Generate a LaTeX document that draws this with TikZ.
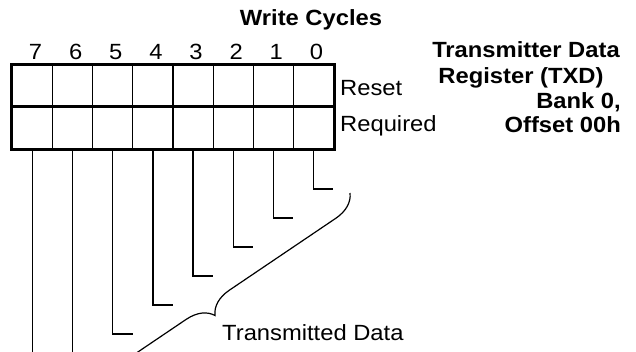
\documentclass[tikz,border=0pt]{standalone}
\usepackage{fontspec}
\setmainfont[FakeStretch=1.08]{Liberation Sans}
\usetikzlibrary{positioning}
\usetikzlibrary{calc}
\usetikzlibrary{decorations.pathreplacing}

\begin{document}
\begin{tikzpicture}[x=1pt, y=-1pt,
  every node/.style={font=\fontsize{22}{26}\selectfont, inner sep=0pt},
  cell/.style={draw, line width=1.2pt, minimum width=\Cw pt, minimum height=\Ch pt},
  frame/.style={line width=3pt},
  leader/.style={line width=1.2pt},
  title/.style={font=\fontsize{22}{26}\selectfont\bfseries}]

%---------------------------------------
% Page size
%---------------------------------------
\useasboundingbox (0,0) rectangle (636,351);
\clip (0,0) rectangle (636,351);

\def\Xl{12.5}     % left edge of register
\def\Cw{40.125}   % cell width
\def\Ch{42}       % row height
\def\Ytop{189}    % first leader corner
\def\Ystep{29}    % leader step
\def\Tick{20}     % leader tick length

%====================================================
% Register: reset row and required row
%====================================================
\foreach \i in {0,...,7} {
  \node[cell] (rst\i) at ({\Xl+(7.5-\i)*\Cw}, 86) {};
  \node[cell] (req\i) at ({\Xl+(7.5-\i)*\Cw}, 128) {};
  \node[anchor=base] (bit\i) at ([xshift=3pt, yshift=5pt]rst\i.north) {\i};
}

% Outer frame and middle line
\draw[frame] (rst7.north west) rectangle (req0.south east);
\draw[frame] (req7.north west) -- (req0.north east);

\node[anchor=base west] (reset) at (340,95) {Reset};
\node[anchor=base west] (required) at (340,131) {Required};

%====================================================
% Titles
%====================================================
\node[title, anchor=base] (write) at (311,25) {Write Cycles};
\node[title, anchor=base] (txd1) at (526,57) {Transmitter Data};
\node[title, anchor=base] (txd2) at (521,83) {Register (TXD)};
\node[title, anchor=base east] (bank) at (621,108) {Bank 0,};
\node[title, anchor=base east] (offset) at (621,132) {Offset 00h};

%====================================================
% Leaders from the bits
%====================================================
\foreach \i in {0,...,5} {
  \pgfmathsetmacro\yy{\Ytop+\i*\Ystep}
  \coordinate (end\i) at ({\Xl+(7.5-\i)*\Cw+\Tick}, \yy);
  \draw[leader] (req\i.south) |- (end\i);
}

% Bits 6 and 7 run off the bottom
\coordinate (end6) at ({\Xl+1.5*\Cw}, 360);
\coordinate (end7) at ({\Xl+0.5*\Cw}, 360);
\draw[leader] (req6.south) -- (end6);
\draw[leader] (req7.south) -- (end7);

% Brace over the data bits
\coordinate (braceTop) at (350,193);
\coordinate (braceBot) at (51,395);
\draw[leader, decorate, decoration={brace, amplitude=26pt}] (braceTop) -- (braceBot);

\node[anchor=base west] (txdata) at (222,340) {Transmitted Data};

\end{tikzpicture}
\end{document}
